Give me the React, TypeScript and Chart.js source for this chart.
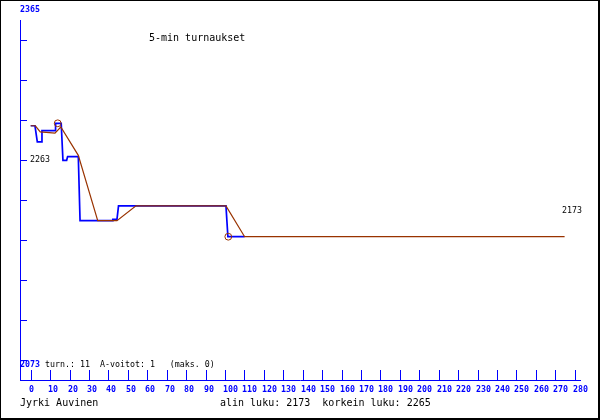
import React, { useEffect, useRef } from "react";
import { Chart, registerables } from "chart.js";

Chart.register(...registerables);

// ---- data ----
const blueX = [0, 2.2, 3.4, 5.7, 5.8, 12.7, 12.8, 15.7, 16.6, 18.5, 19.0, 24.5, 25.4, 42.0, 42.3, 44.4, 45.2, 100.5, 101.5, 110.1];
const blueY = [2263, 2263, 2250, 2250, 2259, 2259, 2265, 2265, 2235, 2235, 2238, 2238, 2186, 2186, 2187, 2187, 2198, 2198, 2173, 2173];

const brownX = [0, 2.4, 4.9, 12.5, 15.5, 24.5, 34.5, 44.4, 54.2, 100.5, 110.1, 274.8];
const brownY = [2263, 2263, 2258, 2257, 2262, 2239, 2186, 2186, 2198, 2198, 2173, 2173];

const markerX = [13.9, 101.7];
const markerY = [2265, 2173];

const xTicks = [0, 10, 20, 30, 40, 50, 60, 70, 80, 90, 100, 110, 120, 130, 140, 150, 160, 170, 180, 190, 200, 210, 220, 230, 240, 250, 260, 270, 280];
const yTicks = [2332.56, 2300.11, 2267.67, 2235.22, 2202.78, 2170.33, 2137.89, 2105.44, 2073];

const yTopLabel = "2365";
const yBottomLabel = "2073";
const title = "5-min turnaukset";
const startLabel = "2263";
const endLabel = "2173";
const statsText = " turn.: 11  A-voitot: 1   (maks. 0)";
const author = "Jyrki Auvinen";
const rangeText = "alin luku: 2173  korkein luku: 2265";

const BLUE = "#0000ff";
const BROWN = "#993300";
const TINY = "8.3px 'DejaVu Sans Mono'";
const TINY_BOLD = "bold 8.3px 'DejaVu Sans Mono'";
const SMALL = "10px 'DejaVu Sans Mono'";

const toPts = (xs: number[], ys: number[]) => xs.map((x, i) => ({ x, y: ys[i] }));

const decorPlugin = {
  id: "decor",
  afterDraw(chart: any) {
    const ctx = chart.ctx as CanvasRenderingContext2D;
    const xs = chart.scales.x;
    const ys = chart.scales.y;
    ctx.save();
    // frame
    ctx.fillStyle = "#000";
    ctx.fillRect(0, 0, 600, 1);
    ctx.fillRect(0, 0, 1, 420);
    ctx.fillRect(598, 0, 2, 420);
    ctx.fillRect(0, 418, 600, 2);

    // axes
    ctx.strokeStyle = BLUE;
    ctx.lineWidth = 1;
    ctx.beginPath();
    ctx.moveTo(20.5, 20);
    ctx.lineTo(20.5, 380.5);
    ctx.moveTo(20, 380.5);
    ctx.lineTo(581, 380.5);
    // y ticks
    yTicks.forEach((v) => {
      const py = Math.round(ys.getPixelForValue(v)) + 0.5;
      ctx.moveTo(20, py);
      ctx.lineTo(27, py);
    });
    // x ticks
    xTicks.forEach((v) => {
      const px = Math.round(xs.getPixelForValue(v)) + 0.5;
      ctx.moveTo(px, 370);
      ctx.lineTo(px, 380);
    });
    ctx.stroke();

    ctx.textBaseline = "alphabetic";
    ctx.textAlign = "left";
    // x tick labels
    ctx.fillStyle = BLUE;
    ctx.font = TINY_BOLD;
    xTicks.forEach((v) => {
      const px = xs.getPixelForValue(v);
      ctx.fillText(String(v), Math.round(px) - 2, 392);
    });
    // y range labels
    ctx.fillText(yTopLabel, 20, 12);
    ctx.fillText(yBottomLabel, 20, 367);

    ctx.fillStyle = "#000";
    ctx.font = TINY;
    ctx.fillText(statsText, 40, 367);
    ctx.fillText(startLabel, 30, 162);
    ctx.fillText(endLabel, 562, 213);

    ctx.font = SMALL;
    ctx.fillText(title, 149, 41);
    ctx.fillText(author, 20, 406);
    ctx.fillText(rangeText, 220, 406);
    ctx.restore();
  },
};

export default function App() {
  const ref = useRef<HTMLCanvasElement | null>(null);
  useEffect(() => {
    document.body.style.margin = "0";
    document.body.style.overflow = "hidden";
    const canvas = ref.current!;
    const chart = new Chart(canvas, {
      type: "line",
      data: {
        datasets: [
          {
            label: "markers",
            data: toPts(markerX, markerY),
            showLine: false,
            pointRadius: 3.4,
            pointStyle: "circle",
            pointBorderColor: BROWN,
            pointBackgroundColor: "rgba(0,0,0,0)",
            pointBorderWidth: 1,
            order: 0,
          },
          {
            label: "brown",
            data: toPts(brownX, brownY),
            borderColor: BROWN,
            borderWidth: 1.2,
            pointRadius: 0,
            tension: 0,
            fill: false,
            order: 1,
          },
          {
            label: "blue",
            data: toPts(blueX, blueY),
            borderColor: BLUE,
            borderWidth: 1.7,
            pointRadius: 0,
            tension: 0,
            fill: false,
            order: 2,
          },
        ],
      } as any,
      options: {
        responsive: false,
        animation: false,
        events: [],
        layout: { autoPadding: false, padding: { left: 20, right: 19, top: 0, bottom: 40 } },
        scales: {
          x: { type: "linear", min: -5.507, max: 283.243, display: false },
          y: { type: "linear", min: 2056.78, max: 2365, display: false },
        },
        plugins: { legend: { display: false }, tooltip: { enabled: false }, title: { display: false } },
      } as any,
      plugins: [decorPlugin],
    });
    return () => chart.destroy();
  }, []);
  return (
    <div style={{ position: "fixed", left: 0, top: 0, width: 600, height: 420, background: "#fff" }}>
      <canvas ref={ref} width={600} height={420} style={{ display: "block", width: 600, height: 420 }} />
    </div>
  );
}
